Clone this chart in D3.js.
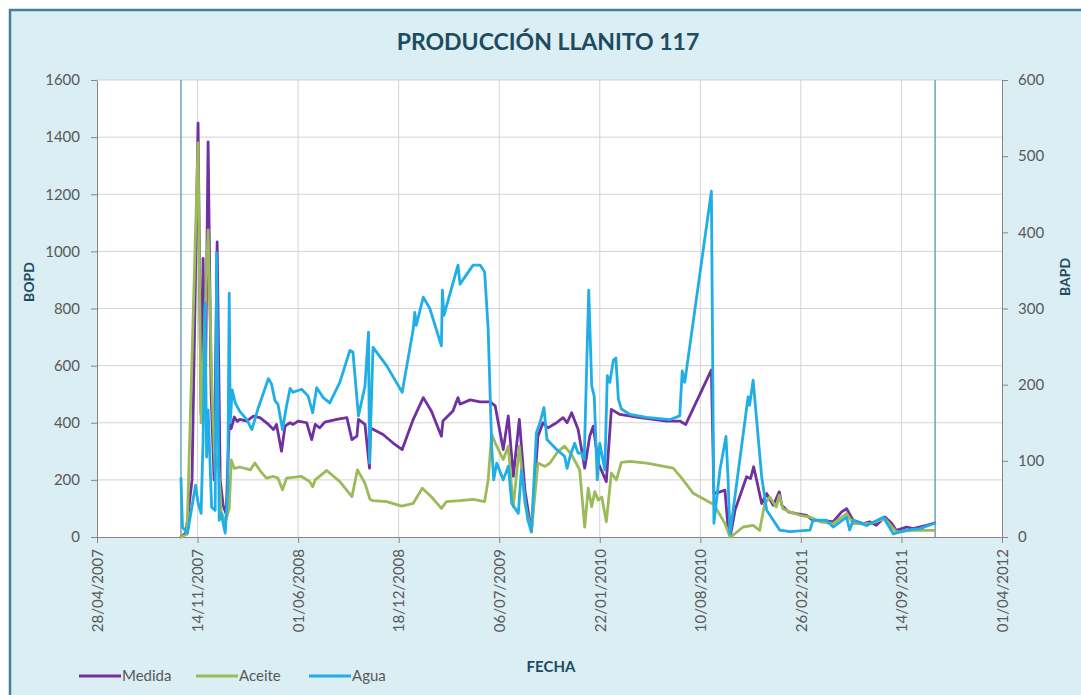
<!DOCTYPE html>
<html>
<head>
<meta charset="utf-8">
<script src="https://cdn.jsdelivr.net/npm/d3@7"></script>
<style>
  body { margin: 0; background: #fff; }
  svg { display: block; }
</style>
</head>
<body>
<div id="chart"></div>
<script>
// Medida (BOPD, eje izquierdo)
const medida = [
  ["2007-10-12",0],["2007-10-22",15],["2007-11-03",200],["2007-11-15",1449],["2007-11-21",430],
  ["2007-11-25",975],["2007-11-29",420],["2007-12-05",1383],["2007-12-11",500],["2007-12-17",200],
  ["2007-12-23",1033],["2007-12-29",200],["2008-01-04",110],["2008-01-10",80],["2008-01-16",400],
  ["2008-01-20",380],["2008-01-26",420],["2008-02-01",405],["2008-02-06",412],["2008-02-20",406],
  ["2008-03-04",423],["2008-03-17",418],["2008-04-03",394],["2008-04-13",376],["2008-04-19",394],
  ["2008-04-29",300],["2008-05-06",388],["2008-05-16",400],["2008-05-22",394],["2008-06-01",406],
  ["2008-06-18",400],["2008-06-28",341],["2008-07-05",394],["2008-07-14",382],["2008-07-24",402],
  ["2008-08-17",412],["2008-09-06",418],["2008-09-16",341],["2008-09-26",353],["2008-09-29",412],
  ["2008-10-12",394],["2008-10-21",241],["2008-10-23",382],["2008-11-17",359],["2008-12-07",329],
  ["2008-12-25",306],["2009-01-16",412],["2009-02-05",488],["2009-02-21",441],["2009-03-13",353],
  ["2009-03-16",406],["2009-04-05",441],["2009-04-15",488],["2009-04-19",465],["2009-05-09",480],
  ["2009-05-29",473],["2009-06-18",473],["2009-06-28",459],["2009-07-14",306],["2009-07-24",424],
  ["2009-08-03",212],["2009-08-15",412],["2009-08-26",165],["2009-09-08",18],["2009-09-21",353],
  ["2009-10-01",400],["2009-10-11",382],["2009-10-28",400],["2009-11-10",418],["2009-11-18",400],
  ["2009-11-27",435],["2009-12-10",376],["2009-12-23",241],["2010-01-02",353],["2010-01-09",388],
  ["2010-01-19",259],["2010-02-04",194],["2010-02-14",447],["2010-03-03",429],["2010-04-12",418],
  ["2010-06-04",406],["2010-06-30",406],["2010-07-12",394],["2010-09-01",585],["2010-09-06",152],
  ["2010-09-18",158],["2010-09-28",164],["2010-10-04",35],["2010-10-09",6],["2010-10-18",94],
  ["2010-11-10",211],["2010-11-18",205],["2010-11-24",246],["2010-12-03",175],["2010-12-10",117],
  ["2010-12-20",152],["2011-01-02",111],["2011-01-14",158],["2011-01-19",111],["2011-02-01",88],
  ["2011-02-17",82],["2011-03-09",76],["2011-03-22",58],["2011-04-11",58],["2011-05-01",53],
  ["2011-05-18",88],["2011-05-28",99],["2011-06-10",58],["2011-06-30",47],["2011-07-13",53],
  ["2011-07-26",41],["2011-08-12",70],["2011-08-25",49],["2011-09-04",23],["2011-09-24",35],
  ["2011-10-07",29],["2011-11-03",41],["2011-11-19",49]
];

// Aceite (BOPD, eje izquierdo)
const aceite = [
  ["2007-10-12",0],["2007-10-24",10],["2007-11-15",1380],["2007-11-21",400],["2007-12-05",1075],
  ["2007-12-13",500],["2007-12-19",230],["2007-12-25",280],["2007-12-31",90],["2008-01-08",50],
  ["2008-01-16",100],["2008-01-20",270],["2008-01-26",240],["2008-02-06",245],["2008-02-27",235],
  ["2008-03-07",259],["2008-03-20",226],["2008-03-30",206],["2008-04-13",212],["2008-04-22",206],
  ["2008-05-01",165],["2008-05-09",206],["2008-05-22",209],["2008-06-08",212],["2008-06-24",194],
  ["2008-06-30",176],["2008-07-05",200],["2008-07-28",233],["2008-08-23",194],["2008-09-16",141],
  ["2008-09-27",235],["2008-10-12",188],["2008-10-22",132],["2008-10-28",127],["2008-11-24",124],
  ["2008-12-24",108],["2009-01-16",118],["2009-02-03",171],["2009-02-21",141],["2009-03-13",100],
  ["2009-03-23",124],["2009-04-19",127],["2009-05-15",132],["2009-06-07",124],["2009-06-14",200],
  ["2009-06-21",360],["2009-07-01",318],["2009-07-14",271],["2009-07-24",318],["2009-08-03",106],
  ["2009-08-15",318],["2009-08-26",118],["2009-09-08",18],["2009-09-21",259],["2009-10-05",247],
  ["2009-10-15",259],["2009-10-31",300],["2009-11-13",318],["2009-11-27",288],["2009-12-13",235],
  ["2009-12-23",35],["2009-12-30",171],["2010-01-06",106],["2010-01-12",159],["2010-01-19",129],
  ["2010-01-26",140],["2010-02-04",53],["2010-02-14",224],["2010-02-24",200],["2010-03-06",261],
  ["2010-03-23",265],["2010-04-25",259],["2010-06-17",241],["2010-07-04",206],["2010-07-27",153],
  ["2010-09-01",118],["2010-09-05",117],["2010-09-28",47],["2010-10-08",0],["2010-10-14",6],
  ["2010-11-03",35],["2010-11-23",41],["2010-12-06",23],["2010-12-16",117],["2010-12-26",140],
  ["2011-01-08",105],["2011-01-14",146],["2011-01-21",99],["2011-02-04",88],["2011-02-24",76],
  ["2011-03-16",70],["2011-04-05",53],["2011-05-01",47],["2011-05-28",82],["2011-06-10",47],
  ["2011-07-13",47],["2011-08-12",64],["2011-09-04",18],["2011-10-07",23],["2011-11-19",23]
];

// Agua (BAPD, eje derecho)
const agua = [
  ["2007-10-12",77],["2007-10-15",13],["2007-10-25",5],["2007-11-10",68],["2007-11-15",45],
  ["2007-11-21",31],["2007-11-25",127],["2007-11-29",307],["2007-12-02",105],["2007-12-05",167],
  ["2007-12-12",39],["2007-12-19",35],["2007-12-22",373],["2007-12-27",22],["2007-12-31",31],
  ["2008-01-08",5],["2008-01-13",62],["2008-01-16",320],["2008-01-18",150],["2008-01-22",193],
  ["2008-01-28",176],["2008-02-06",165],["2008-02-20",154],["2008-03-01",141],["2008-03-13",168],
  ["2008-04-03",208],["2008-04-09",201],["2008-04-16",179],["2008-04-22",174],["2008-05-01",141],
  ["2008-05-09",172],["2008-05-16",195],["2008-05-22",190],["2008-06-08",194],["2008-06-21",185],
  ["2008-06-30",163],["2008-07-08",196],["2008-07-21",183],["2008-08-03",176],["2008-08-23",203],
  ["2008-09-12",245],["2008-09-18",243],["2008-09-29",159],["2008-10-12",198],["2008-10-19",269],
  ["2008-10-21",97],["2008-10-28",249],["2008-11-24",225],["2008-12-25",190],["2009-01-16",273],
  ["2009-01-19",295],["2009-01-22",278],["2009-02-05",315],["2009-02-18",300],["2009-03-13",251],
  ["2009-03-15",324],["2009-03-18",291],["2009-04-15",357],["2009-04-19",332],["2009-05-15",357],
  ["2009-05-29",357],["2009-06-07",348],["2009-06-14",273],["2009-06-21",119],["2009-06-25",75],
  ["2009-07-01",97],["2009-07-14",75],["2009-07-24",93],["2009-07-31",44],["2009-08-13",31],
  ["2009-08-19",88],["2009-09-01",22],["2009-09-08",7],["2009-09-18",137],["2009-09-25",150],
  ["2009-10-03",170],["2009-10-09",128],["2009-10-28",115],["2009-11-13",106],["2009-11-18",90],
  ["2009-11-24",106],["2009-12-03",123],["2009-12-10",110],["2009-12-17",110],["2009-12-22",101],
  ["2009-12-31",324],["2010-01-06",198],["2010-01-11",185],["2010-01-17",75],["2010-01-22",123],
  ["2010-02-01",88],["2010-02-06",212],["2010-02-11",203],["2010-02-18",232],["2010-02-23",235],
  ["2010-02-28",181],["2010-03-06",168],["2010-03-23",161],["2010-04-25",157],["2010-06-10",154],
  ["2010-06-30",159],["2010-07-05",218],["2010-07-10",203],["2010-09-01",454],["2010-09-06",18],
  ["2010-09-18",88],["2010-09-30",132],["2010-10-04",79],["2010-10-08",4],["2010-11-13",184],
  ["2010-11-16",173],["2010-11-23",206],["2010-12-10",79],["2010-12-20",35],["2011-01-15",9],
  ["2011-02-04",7],["2011-03-16",9],["2011-03-22",22],["2011-04-18",22],["2011-05-01",13],
  ["2011-05-28",26],["2011-06-03",9],["2011-06-10",22],["2011-07-07",15],["2011-08-09",26],
  ["2011-08-29",4],["2011-09-24",9],["2011-10-21",11],["2011-11-19",18]
];

const fechaTicks = ["28/04/2007","14/11/2007","01/06/2008","18/12/2008","06/07/2009",
                    "22/01/2010","10/08/2010","26/02/2011","14/09/2011","01/04/2012"];
const bopdTicks = [0, 200, 400, 600, 800, 1000, 1200, 1400, 1600];
const bapdTicks = [0, 100, 200, 300, 400, 500, 600];
// lineas verticales de inicio y fin del periodo
const marcas = ["2007-10-12", "2011-11-20"];

const width = 1081, height = 695;
const plot = { left: 97, right: 1002, top: 80, bottom: 537 };
const font = "Lato, 'Open Sans', sans-serif";
const textGray = "#595959";
const titleColor = "#1d4b60";

const parseIso = d3.utcParse("%Y-%m-%d");
const parseTick = d3.utcParse("%d/%m/%Y");
const tickDates = fechaTicks.map(parseTick);

const series = [
  { name: "Medida", data: medida, color: "#7030A0", axis: "left" },
  { name: "Aceite", data: aceite, color: "#9BBB59", axis: "left" },
  { name: "Agua",   data: agua,   color: "#1FAEE6", axis: "right" }
];

const svg = d3.select("#chart").append("svg")
  .attr("width", width)
  .attr("height", height)
  .style("font-family", font);

// chart area background + border
svg.append("rect")
  .attr("x", 10).attr("y", 10)
  .attr("width", width + 20).attr("height", height + 20)
  .attr("fill", "#DAEEF3")
  .attr("stroke", "#4a7d96")
  .attr("stroke-width", 2.5);

svg.append("rect")
  .attr("x", plot.left).attr("y", plot.top)
  .attr("width", plot.right - plot.left).attr("height", plot.bottom - plot.top)
  .attr("fill", "#ffffff");

const x = d3.scaleUtc()
  .domain([tickDates[0], tickDates[tickDates.length - 1]])
  .range([plot.left, plot.right]);

const yLeft = d3.scaleLinear().domain([0, 1600]).range([plot.bottom, plot.top]);
const yRight = d3.scaleLinear().domain([0, 600]).range([plot.bottom, plot.top]);

// gridlines
svg.append("g")
  .selectAll("line.h")
  .data(bopdTicks.slice(1))
  .enter().append("line")
  .attr("x1", plot.left).attr("x2", plot.right)
  .attr("y1", d => yLeft(d)).attr("y2", d => yLeft(d))
  .attr("stroke", "#d3d3d3").attr("stroke-width", 1);

svg.append("g")
  .selectAll("line.v")
  .data(tickDates.slice(1, -1))
  .enter().append("line")
  .attr("x1", d => x(d)).attr("x2", d => x(d))
  .attr("y1", plot.top).attr("y2", plot.bottom)
  .attr("stroke", "#d3d3d3").attr("stroke-width", 1);

// start / end markers
svg.append("g")
  .selectAll("line")
  .data(marcas.map(parseIso))
  .enter().append("line")
  .attr("x1", d => x(d)).attr("x2", d => x(d))
  .attr("y1", plot.top).attr("y2", plot.bottom)
  .attr("stroke", "#6aa5bf").attr("stroke-width", 1.5);

// axes
const styleAxis = g => {
  g.selectAll("path.domain").attr("stroke", "#868686");
  g.selectAll(".tick line").attr("stroke", "#868686");
  g.selectAll("text")
    .attr("fill", textGray)
    .style("font-size", "15px")
    .style("font-family", font);
};

svg.append("g")
  .attr("transform", `translate(${plot.left},0)`)
  .call(d3.axisLeft(yLeft).tickValues(bopdTicks).tickFormat(d3.format("d"))
    .tickSizeInner(6).tickSizeOuter(0).tickPadding(11))
  .call(styleAxis);

svg.append("g")
  .attr("transform", `translate(${plot.right},0)`)
  .call(d3.axisRight(yRight).tickValues(bapdTicks).tickFormat(d3.format("d"))
    .tickSizeInner(6).tickSizeOuter(0).tickPadding(10))
  .call(styleAxis);

svg.append("g")
  .attr("transform", `translate(0,${plot.bottom})`)
  .call(d3.axisBottom(x).tickValues(tickDates).tickFormat(d3.utcFormat("%d/%m/%Y"))
    .tickSizeInner(6).tickSizeOuter(0))
  .call(styleAxis)
  .selectAll("text")
  .attr("transform", "rotate(-90)")
  .attr("text-anchor", "end")
  .attr("x", -12)
  .attr("y", 0)
  .attr("dy", "0.35em");

// series lines
const lineFor = s => d3.line()
  .x(d => x(parseIso(d[0])))
  .y(d => (s.axis === "left" ? yLeft : yRight)(d[1]))
  .curve(d3.curveLinear);

svg.append("g")
  .selectAll("path")
  .data(series)
  .enter().append("path")
  .attr("d", s => lineFor(s)(s.data))
  .attr("fill", "none")
  .attr("stroke", s => s.color)
  .attr("stroke-width", 2.8)
  .attr("stroke-linejoin", "round")
  .attr("stroke-linecap", "round");

// titles
svg.append("text")
  .attr("x", 548).attr("y", 50)
  .attr("text-anchor", "middle")
  .attr("fill", titleColor)
  .style("font-size", "23px")
  .style("font-weight", "bold")
  .text("PRODUCCIÓN LLANITO 117");

svg.append("text")
  .attr("transform", "translate(34,282) rotate(-90)")
  .attr("text-anchor", "middle")
  .attr("fill", titleColor)
  .style("font-size", "14px")
  .style("font-weight", "bold")
  .text("BOPD");

svg.append("text")
  .attr("transform", "translate(1070,277) rotate(-90)")
  .attr("text-anchor", "middle")
  .attr("fill", titleColor)
  .style("font-size", "14px")
  .style("font-weight", "bold")
  .text("BAPD");

svg.append("text")
  .attr("x", 551).attr("y", 672)
  .attr("text-anchor", "middle")
  .attr("fill", titleColor)
  .style("font-size", "15px")
  .style("font-weight", "bold")
  .text("FECHA");

// legend
const legendX = [79, 196, 309];
const legend = svg.append("g");
series.forEach((s, i) => {
  const g = legend.append("g").attr("transform", `translate(${legendX[i]},676)`);
  g.append("line")
    .attr("x1", 0).attr("x2", 42)
    .attr("y1", 0).attr("y2", 0)
    .attr("stroke", s.color).attr("stroke-width", 3);
  g.append("text")
    .attr("x", 43).attr("y", 0).attr("dy", "0.35em")
    .attr("fill", textGray)
    .style("font-size", "15px")
    .text(s.name);
});
</script>
</body>
</html>
